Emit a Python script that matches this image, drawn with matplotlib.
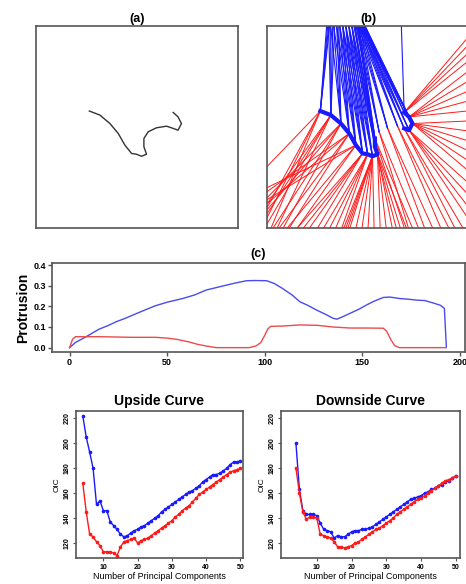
import matplotlib
matplotlib.use("Agg")
import matplotlib.pyplot as plt

plt.rcParams['font.family'] = ['Liberation Sans', 'DejaVu Sans']

# ---- (a) curve, unit box coordinates
curve_x = [0.264, 0.316, 0.366, 0.407, 0.440, 0.473, 0.498, 0.522, 0.547, 0.534,
           0.534, 0.555, 0.596, 0.646, 0.679, 0.703, 0.720, 0.703, 0.679]
curve_y = [0.579, 0.559, 0.517, 0.468, 0.410, 0.369, 0.365, 0.355, 0.365, 0.402,
           0.443, 0.476, 0.496, 0.504, 0.493, 0.484, 0.517, 0.550, 0.572]

# ---- (b) rays: source point index on the curve -> end point on the box edge
blue_src = ([0] * 4 + [1] * 4 + [2] * 4 + [3] * 4 + [4] * 4 + [5] * 4 + [6] * 4
            + [7] * 4 + [8] * 4 + [9] * 3 + [10] * 3 + [11] * 3 + [12] * 3
            + [13] * 3 + [14] * 3 + [15] * 3 + [16] * 3 + [17] * 3 + [18] * 3)
blue_top = [0.295, 0.30, 0.305, 0.31,
            0.305, 0.315, 0.325, 0.335,
            0.315, 0.33, 0.345, 0.355,
            0.33, 0.345, 0.36, 0.375,
            0.345, 0.36, 0.375, 0.39,
            0.36, 0.375, 0.39, 0.405,
            0.375, 0.39, 0.405, 0.42,
            0.39, 0.405, 0.42, 0.435,
            0.405, 0.42, 0.435, 0.45,
            0.42, 0.435, 0.45,
            0.43, 0.445, 0.455,
            0.44, 0.45, 0.46,
            0.445, 0.455, 0.465,
            0.45, 0.46, 0.47,
            0.455, 0.465, 0.475,
            0.46, 0.47, 0.48,
            0.465, 0.475, 0.485,
            0.47, 0.48, 0.485,
            0.475, 0.485, 0.665]

red_src = ([0] * 4 + [1] * 4 + [2] * 4 + [3] * 4 + [4] * 4 + [5] * 4 + [6] * 4
           + [7] * 8 + [8] * 4 + [9] * 2 + [10] * 2 + [11] * 2 + [12] * 2
           + [13] * 2 + [14] * 2 + [15] * 4 + [16] * 6 + [17] * 5 + [18] * 4)
red_end_x = [0, 0, 0, 0.02,
             0, 0, 0, 0.05,
             0, 0, 0.03, 0.08,
             0, 0, 0.06, 0.11,
             0, 0, 0.10, 0.15,
             0.15, 0.18, 0.21, 0.25,
             0.28, 0.31, 0.34, 0.37,
             0.38, 0.39, 0.40, 0.41, 0.44, 0.47, 0.50, 0.53,
             0.56, 0.59, 0.62, 0.66,
             0.69, 0.64,
             0.72, 0.68,
             0.75, 0.70,
             0.78, 0.82,
             0.86, 0.90,
             0.93, 0.97,
             1, 1, 1, 1,
             1, 1, 1, 1, 1, 1,
             1, 1, 1, 1, 1,
             1, 1, 1, 1]
red_end_y = [0.304, 0.10, 0.05, 0.0,
             0.12, 0.07, 0.02, 0.0,
             0.15, 0.09, 0.0, 0.0,
             0.18, 0.12, 0.0, 0.0,
             0.20, 0.14, 0.0, 0.0,
             0, 0, 0, 0,
             0, 0, 0, 0,
             0, 0, 0, 0, 0, 0, 0, 0,
             0, 0, 0, 0,
             0, 0,
             0, 0,
             0, 0,
             0, 0,
             0, 0,
             0, 0,
             0.04, 0.10, 0.16, 0.22,
             0.28, 0.33, 0.38, 0.43, 0.48, 0.53,
             0.58, 0.63, 0.68, 0.73, 0.78,
             0.83, 0.87, 0.91, 0.95]

# ---- (c) protrusion
prot_blue_x = [0, 3, 8.5, 15, 20, 24, 28, 32.5, 38, 44, 50, 58, 64, 70, 77, 84,
               90.6, 95, 101, 105, 109, 114, 118, 122, 126.5, 131, 135, 137, 140,
               143.6, 148, 152, 156, 160.7, 164, 169, 173, 178, 182, 186, 190,
               192, 193]
prot_blue_y = [0.0, 0.025, 0.053, 0.089, 0.108, 0.126, 0.14, 0.158, 0.18, 0.203,
               0.22, 0.238, 0.255, 0.279, 0.295, 0.311, 0.324, 0.325, 0.324,
               0.31, 0.287, 0.255, 0.222, 0.205, 0.182, 0.162, 0.142, 0.138,
               0.15, 0.166, 0.185, 0.206, 0.225, 0.243, 0.245, 0.238, 0.235,
               0.23, 0.228, 0.217, 0.205, 0.19, 0.005]
prot_red_x = [0, 1.5, 3, 15, 32, 44, 50, 55, 61, 66, 70, 75, 85, 92, 95.5, 98,
              100, 101.5, 103, 110, 118, 127, 135, 143.6, 152, 160.7, 162.4,
              164.5, 166.5, 169, 180, 193]
prot_red_y = [0.0, 0.04, 0.053, 0.053, 0.05, 0.05, 0.046, 0.04, 0.028, 0.015,
              0.008, 0.0, 0.0, 0.0, 0.008, 0.025, 0.06, 0.09, 0.103, 0.105,
              0.11, 0.108, 0.1, 0.095, 0.095, 0.094, 0.08, 0.04, 0.01, 0.0,
              0.0, 0.0]

# ---- OIC vs number of principal components
n_pc = list(range(4, 51))
up_blue = [222, 205, 193, 180, 151, 154, 146, 146, 137, 134, 131, 127, 125, 126,
           128, 130, 131, 133, 134, 136, 138, 140, 142, 145, 147, 149, 151, 153,
           155, 157, 159, 161, 162, 164, 166, 169, 171, 173, 175, 175, 176, 178,
           180, 183, 185, 185, 186]
up_red = [168, 145, 127, 125, 121, 118, 113, 113, 113, 112, 110, 117, 121, 122,
          123, 124, 120, 122, 123, 124, 126, 128, 130, 132, 134, 136, 138, 141,
          143, 146, 148, 150, 153, 156, 159, 161, 163, 165, 167, 169, 171, 173,
          175, 177, 178, 179, 180]
down_blue = [200, 163, 146, 143, 143, 143, 142, 136, 131, 130, 129, 124, 126, 125,
             125, 127, 129, 130, 130, 131, 131, 132, 133, 135, 137, 139, 141, 143,
             145, 147, 149, 151, 153, 155, 156, 157, 158, 160, 161, 163, 164, 166,
             167, 169, 170, 172, 174]
down_red = [180, 160, 145, 139, 141, 141, 140, 127, 126, 125, 124, 121, 117, 117,
            116, 117, 118, 120, 121, 123, 125, 127, 129, 131, 132, 134, 136, 138,
            140, 143, 145, 147, 149, 151, 153, 155, 156, 158, 160, 162, 164, 166,
            168, 170, 171, 172, 174]
oic_ticks = [120, 140, 160, 180, 200, 220]
pc_ticks = [10, 20, 30, 40, 50]

BLUE = '#1a1aff'
RED = '#ff1a1a'
EDGE = '#555555'

fig = plt.figure(figsize=(4.66, 5.84), dpi=100)


def style_box(ax):
    for s in ax.spines.values():
        s.set_color(EDGE)
        s.set_linewidth(1.2)


# (a)
axa = fig.add_axes([0.0773, 0.6096, 0.4335, 0.3459])
axa.plot(curve_x, curve_y, color='#333333', lw=1.0)
axa.set_xlim(0, 1)
axa.set_ylim(0, 1)
axa.set_xticks([])
axa.set_yticks([])
axa.set_title('(a)', fontsize=9, fontweight='bold', pad=3)
style_box(axa)

# (b)
axb = fig.add_axes([0.573, 0.6096, 0.4335, 0.3459])
for s, ex, ey in zip(red_src, red_end_x, red_end_y):
    axb.plot([curve_x[s], ex], [curve_y[s], ey], color=RED, lw=0.7)
for s, t in zip(blue_src, blue_top):
    axb.plot([curve_x[s], t], [curve_y[s], 1.0], color=BLUE, lw=0.8)
axb.plot(curve_x[:11], curve_y[:11], color=BLUE, lw=3)
axb.plot(curve_x[14:], curve_y[14:], color=BLUE, lw=3)
axb.set_xlim(0, 1)
axb.set_ylim(0, 1)
axb.set_xticks([])
axb.set_yticks([])
axb.set_title('(b)', fontsize=9, fontweight='bold', pad=3)
style_box(axb)

# (c)
axc = fig.add_axes([0.1116, 0.3973, 0.886, 0.1524])
axc.plot(prot_blue_x, prot_blue_y, color='#4a4aee', lw=1.0)
axc.plot(prot_red_x, prot_red_y, color='#ee4a4a', lw=1.0)
axc.set_xlim(-9, 202.5)
axc.set_ylim(-0.021, 0.41)
axc.set_xticks([0, 50, 100, 150, 200])
axc.set_yticks([0.0, 0.1, 0.2, 0.3, 0.4])
axc.set_yticklabels(['0.0', '0.1', '0.2', '0.3', '0.4'])
axc.tick_params(labelsize=6.5, length=3, width=1, color=EDGE, pad=1.5)
for lab in axc.get_xticklabels() + axc.get_yticklabels():
    lab.set_fontweight('bold')
axc.set_ylabel('Protrusion', fontsize=10, fontweight='bold', labelpad=2)
axc.set_title('(c)', fontsize=9, fontweight='bold', pad=4)
style_box(axc)


def oic_panel(rect, title, blue, red, xlim):
    ax = fig.add_axes(rect)
    ax.plot(n_pc, blue, color=BLUE, lw=1.0, marker='o', ms=1.6)
    ax.plot(n_pc, red, color=RED, lw=1.0, marker='o', ms=1.6)
    ax.set_xlim(*xlim)
    ax.set_ylim(108, 226)
    ax.set_xticks(pc_ticks)
    ax.set_yticks(oic_ticks)
    ax.tick_params(labelsize=5, length=2.5, width=0.8, color=EDGE, pad=1.5)
    for lab in ax.get_yticklabels():
        lab.set_rotation(90)
        lab.set_va('center')
    for lab in ax.get_xticklabels() + ax.get_yticklabels():
        lab.set_fontweight('bold')
    ax.set_xlabel('Number of Principal Components', fontsize=6.5, labelpad=1)
    ax.set_ylabel('OIC', fontsize=6, labelpad=2)
    ax.set_title(title, fontsize=10, fontweight='bold', pad=4)
    style_box(ax)
    return ax


oic_panel([0.163, 0.0445, 0.358, 0.2517], 'Upside Curve', up_blue, up_red, (2, 50.7))
oic_panel([0.603, 0.0445, 0.384, 0.2517], 'Downside Curve', down_blue, down_red, (-0.3, 51.2))

fig.savefig('out.png', dpi=100)
